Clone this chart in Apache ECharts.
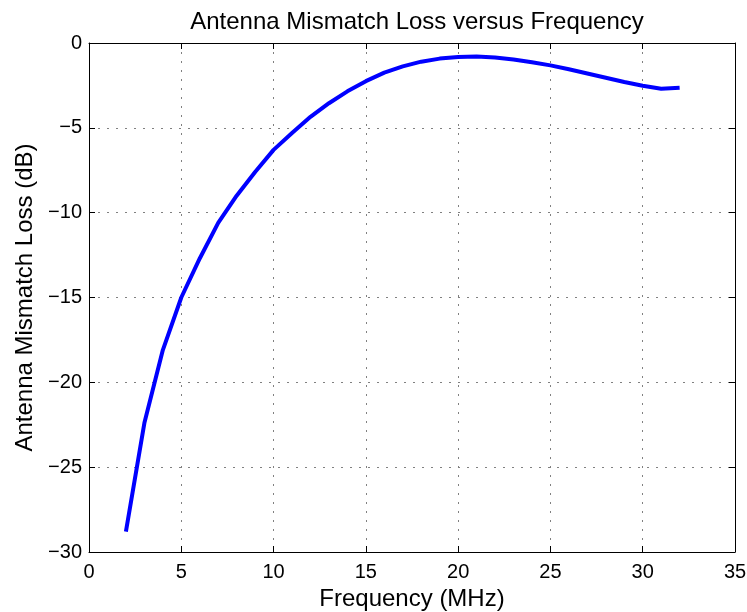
<!DOCTYPE html>
<html>
<head>
<meta charset="utf-8">
<script src="https://cdn.jsdelivr.net/npm/echarts@6/dist/echarts.min.js"></script>
<style>
html,body{margin:0;padding:0;background:#fff;}
#chart{width:747px;height:612px;}
</style>
</head>
<body>
<div id="chart"></div>
<script>
const frequencyMHz = [2,3,4,5,6,7,8,9,10,11,12,13,14,15,16,17,18,19,20,21,22,23,24,25,26,27,28,29,30,31,32];
const mismatchLossDb = [-28.8,-22.4,-18.1,-15.0,-12.7,-10.6,-9.0,-7.6,-6.3,-5.3,-4.35,-3.55,-2.85,-2.25,-1.75,-1.38,-1.1,-0.92,-0.83,-0.8,-0.85,-0.97,-1.13,-1.32,-1.55,-1.8,-2.05,-2.3,-2.52,-2.7,-2.64];
const xTicks = {min:0, max:35, interval:5};
const yTicks = {min:-30, max:0, interval:5};

const font = 'Liberation Sans, Arial, sans-serif';
const chart = echarts.init(document.getElementById('chart'), null, {renderer:'canvas'});
const gridLine = {show:true, lineStyle:{color:'#808080', width:1, type:[2,7]}};
const axLine = {show:true, onZero:false, lineStyle:{color:'#000', width:1}};
const tick = {show:true, inside:true, length:6, lineStyle:{color:'#000'}};
chart.setOption({
  animation:false,
  backgroundColor:'#fff',
  title:{text:'Antenna Mismatch Loss versus Frequency', left:412, textAlign:'center', top:5,
    textStyle:{fontFamily:font, fontSize:24, fontWeight:'normal', color:'#000'}},
  grid:{left:89, right:12, top:43, bottom:60, containLabel:false, outerBoundsMode:'none'},
  xAxis:[
    {type:'value', position:'bottom', min:xTicks.min, max:xTicks.max, interval:xTicks.interval,
     name:'Frequency (MHz)', nameLocation:'middle', nameGap:35,
     nameTextStyle:{fontFamily:font, fontSize:24, color:'#000'},
     axisLine:axLine, axisTick:tick, splitLine:gridLine,
     axisLabel:{fontFamily:font, fontSize:20, color:'#000', margin:10}},
    {type:'value', position:'top', min:xTicks.min, max:xTicks.max, interval:xTicks.interval,
     axisLine:axLine, axisTick:tick, splitLine:{show:false}, axisLabel:{show:false}}
  ],
  yAxis:[
    {type:'value', position:'left', min:yTicks.min, max:yTicks.max, interval:yTicks.interval,
     name:'Antenna Mismatch Loss (dB)', nameLocation:'middle', nameGap:52, nameRotate:90,
     nameTextStyle:{fontFamily:font, fontSize:24, color:'#000'},
     axisLine:axLine, axisTick:tick, splitLine:gridLine,
     axisLabel:{fontFamily:font, fontSize:20, color:'#000', margin:7,
       formatter:v => v < 0 ? '\u2212' + Math.abs(v) : String(v)}},
    {type:'value', position:'right', min:yTicks.min, max:yTicks.max, interval:yTicks.interval,
     axisLine:axLine, axisTick:tick, splitLine:{show:false}, axisLabel:{show:false}}
  ],
  series:[{
    type:'line', xAxisIndex:0, yAxisIndex:0,
    data: frequencyMHz.map((f,i)=>[f, mismatchLossDb[i]]),
    showSymbol:false, symbol:'none',
    lineStyle:{color:'#0000ff', width:4, join:'round', cap:'butt'}
  }]
});
</script>
</body>
</html>
